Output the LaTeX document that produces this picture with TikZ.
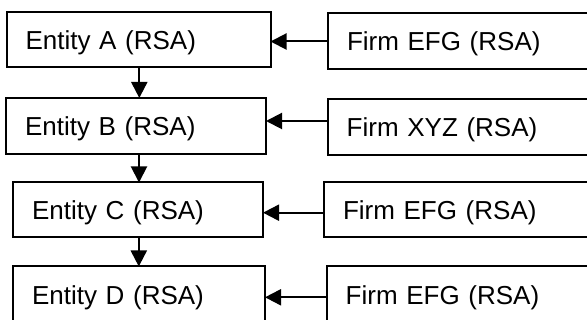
\documentclass[tikz,border=0pt]{standalone}
\usepackage{fontspec}
\setmainfont{Liberation Sans}
\usetikzlibrary{arrows.meta}

\tikzset{
  box/.style={draw, line width=2pt, outer sep=0pt, inner xsep=19pt,
              anchor=north west, align=left, text height=20pt, text depth=0pt,
              font=\fontsize{26}{30}\selectfont},
  link/.style={line width=2pt, -{Triangle[length=16pt,width=16pt]}}
}

\begin{document}
\begin{tikzpicture}[x=1pt,y=-1pt]
  \useasboundingbox (0,0) rectangle (587,320);
  \clip (0,0) rectangle (587,320);

  % entities on the left
  \node[box, minimum width=264pt, minimum height=55pt, text width=226pt]
    (entA) at (6.5,12.5) {Entity A (RSA)};
  \node[box, minimum width=260pt, minimum height=56pt, text width=222pt]
    (entB) at (6,98) {Entity B (RSA)};
  \node[box, minimum width=250pt, minimum height=55pt, text width=212pt]
    (entC) at (13,182.5) {Entity C (RSA)};
  \node[box, minimum width=252pt, minimum height=56pt, text width=214pt]
    (entD) at (13,266.5) {Entity D (RSA)};

  % firms on the right, running past the edge
  \node[box, minimum width=280pt, minimum height=56pt, text width=242pt]
    (firmA) at (328,13) {Firm EFG (RSA)};
  \node[box, minimum width=280pt, minimum height=56pt, text width=242pt]
    (firmB) at (327.7,99) {Firm XYZ (RSA)};
  \node[box, minimum width=280pt, minimum height=55pt, text width=242pt]
    (firmC) at (324,182.5) {Firm EFG (RSA)};
  \node[box, minimum width=280pt, minimum height=56pt, text width=242pt]
    (firmD) at (326.7,266.5) {Firm EFG (RSA)};

  % chain of entities
  \draw[link] ([xshift=0.8pt]entA.south) -- ([xshift=0.8pt]entA.south |- entB.north);
  \draw[link] ([xshift=3pt]entB.south) -- ([xshift=3pt]entB.south |- entC.north);
  \draw[link] ([xshift=0.8pt]entC.south) -- ([xshift=0.8pt]entC.south |- entD.north);

  % firms feeding the entities
  \draw[link] ([yshift=-0.5pt]firmA.west) -- ([yshift=-0.5pt]firmA.west -| entA.east);
  \draw[link] ([yshift=6pt]firmB.west) -- ([yshift=6pt]firmB.west -| entB.east);
  \draw[link] ([yshift=-2.7pt]firmC.west) -- ([yshift=-2.7pt]firmC.west -| entC.east);
  \draw[link] ([yshift=-2.8pt]firmD.west) -- ([yshift=-2.8pt]firmD.west -| entD.east);
\end{tikzpicture}
\end{document}
